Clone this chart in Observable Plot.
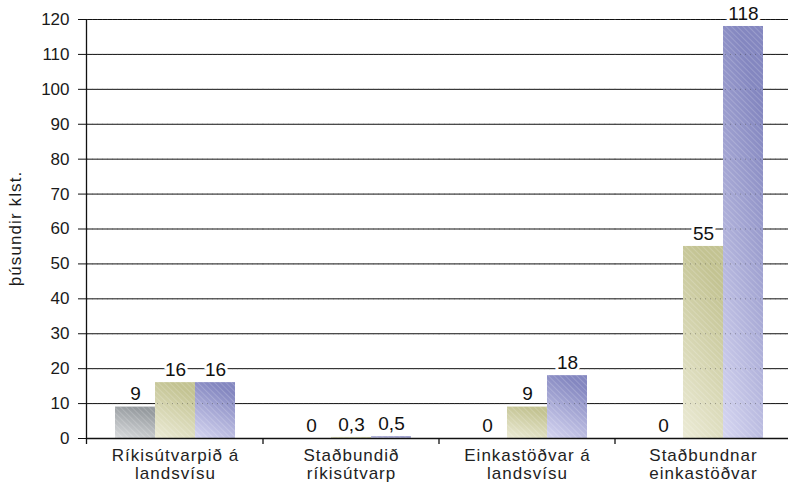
<!DOCTYPE html>
<html>
<head>
<meta charset="utf-8">
<script src="https://cdn.jsdelivr.net/npm/d3@7"></script>
<script src="https://cdn.jsdelivr.net/npm/@observablehq/plot@0.6"></script>
<style>
  html, body { margin: 0; padding: 0; background: white; overflow: hidden; }
</style>
</head>
<body>
<div id="chart"></div>
<script>
const categories = ["Ríkisútvarpið á landsvísu", "Staðbundið ríkisútvarp", "Einkastöðvar á landsvísu", "Staðbundnar einkastöðvar"];
const categoryLines = ["Ríkisútvarpið á\nlandsvísu", "Staðbundið\nríkisútvarp", "Einkastöðvar á\nlandsvísu", "Staðbundnar\neinkastöðvar"];
const series = ["Röð 1", "Röð 2", "Röð 3"];
const values1 = [9, 0, 0, 0];
const values2 = [16, 0.3, 9, 55];
const values3 = [16, 0.5, 18, 118];
const labels1 = ["9", "0", "0", "0"];
const labels2 = ["16", "0,3", "9", "55"];
const labels3 = ["16", "0,5", "18", "118"];
const yTicks = [0, 10, 20, 30, 40, 50, 60, 70, 80, 90, 100, 110, 120];
const yLabel = "þúsundir klst.";

const seriesValues = [values1, values2, values3];
const seriesLabels = [labels1, labels2, labels3];
const rows = [];
categories.forEach((cat, i) => {
  series.forEach((s, j) => {
    rows.push({cat, series: s, value: seriesValues[j][i], label: seriesLabels[j][i], catLabel: categoryLines[i]});
  });
});

const font = "'Liberation Sans', Arial, Helvetica, sans-serif";

const chart = Plot.plot({
  width: 788,
  height: 487,
  marginLeft: 86,
  marginRight: -3,
  marginTop: 19,
  marginBottom: 49,
  style: {fontFamily: font, fontSize: "17px", color: "#1a1a1a", background: "white", overflow: "visible"},
  facet: {data: rows, x: "cat"},
  fx: {domain: categories, padding: 0, label: null, axis: null},
  x: {domain: series, paddingInner: 0, paddingOuter: 0.7, axis: null},
  y: {domain: [0, 120], ticks: yTicks, tickSize: 9, tickPadding: 9, label: null},
  color: {type: "ordinal", domain: series, range: ["url(#grad0)", "url(#grad1)", "url(#grad2)"]},
  marks: [
    Plot.ruleY(yTicks.slice(1), {stroke: "#111", strokeWidth: 1}),
    Plot.barY(rows, {x: "series", y: "value", fill: "series", inset: 0}),
    Plot.barY(rows, {x: "series", y: "value", fill: "white", inset: 0, className: "hatch"}),
    Plot.ruleY(yTicks.slice(1), {stroke: "#444", strokeOpacity: 0.45, strokeDasharray: "1,4"}),
    Plot.ruleY([0], {stroke: "#111", strokeWidth: 1.3}),
    Plot.text(rows, {x: "series", y: "value", text: "label", dy: -13, fontSize: 19, fill: "#111", stroke: "white", strokeWidth: 6, paintOrder: "stroke", className: "vallab"}),
    Plot.text(rows, {filter: d => d.series === series[0], frameAnchor: "bottom", text: "catLabel", dy: 10, lineAnchor: "top", lineHeight: 1.06, fontSize: 17, fill: "#222", className: "catlab"})
  ]
});

const svg = d3.select(chart.tagName.toLowerCase() === "svg" ? chart : chart.querySelector("svg"));
svg.selectAll("text").filter(function() { return (this.textContent || "").includes("\u26A0"); }).remove();

const defs = svg.insert("defs", ":first-child");
const grads = [
  {id: "grad0", a: "#dadcde", b: "#969b9f"},
  {id: "grad1", a: "#ecebd6", b: "#c3c392"},
  {id: "grad2", a: "#d6d6f1", b: "#8487c0"}
];
grads.forEach(g => {
  const lg = defs.append("linearGradient").attr("id", g.id)
    .attr("x1", 0).attr("y1", 1).attr("x2", 0.35).attr("y2", 0);
  lg.append("stop").attr("offset", 0).attr("stop-color", g.a);
  lg.append("stop").attr("offset", 1).attr("stop-color", g.b);
});
const pat = defs.append("pattern").attr("id", "hatch").attr("patternUnits", "userSpaceOnUse")
  .attr("width", 4).attr("height", 4).attr("patternTransform", "rotate(-45)");
pat.append("line").attr("x1", 0).attr("y1", 0).attr("x2", 0).attr("y2", 4)
  .attr("stroke", "white").attr("stroke-opacity", 0.35).attr("stroke-width", 1);
svg.selectAll(".hatch rect").attr("fill", "url(#hatch)");
svg.selectAll(".hatch").attr("fill", "url(#hatch)");

svg.selectAll('[aria-label^="y-axis"] text').style("font-size", "17px").style("fill", "#1a1a1a");
svg.selectAll('[aria-label^="y-axis"] line, [aria-label^="y-axis"] path').attr("stroke", "#111");
svg.selectAll(".vallab text").style("font-size", "19px");
svg.selectAll(".catlab text").style("font-size", "17px").attr("letter-spacing", "1px");

const yS = chart.scale("y");
const fxS = chart.scale("fx");
const y0 = yS.apply(0), yTop = yS.apply(120);
const xLeft = 86;
svg.append("line").attr("x1", xLeft + 0.5).attr("x2", xLeft + 0.5).attr("y1", yTop).attr("y2", y0 + 6)
  .attr("stroke", "#111").attr("stroke-width", 1.3);
if (fxS) {
  categories.slice(0, -1).forEach(c => {
    const xb = fxS.apply(c) + fxS.bandwidth;
    svg.append("line").attr("x1", xb).attr("x2", xb).attr("y1", y0).attr("y2", y0 + 6)
      .attr("stroke", "#111").attr("stroke-width", 1.3);
  });
}
svg.append("text").attr("transform", `translate(17,${(y0 + yTop) / 2}) rotate(-90)`)
  .attr("text-anchor", "middle").attr("dominant-baseline", "middle")
  .attr("font-family", font).style("font-size", "17px").attr("letter-spacing", "1.1px").attr("fill", "#1a1a1a").text(yLabel);

document.getElementById("chart").appendChild(chart);
</script>
</body>
</html>
